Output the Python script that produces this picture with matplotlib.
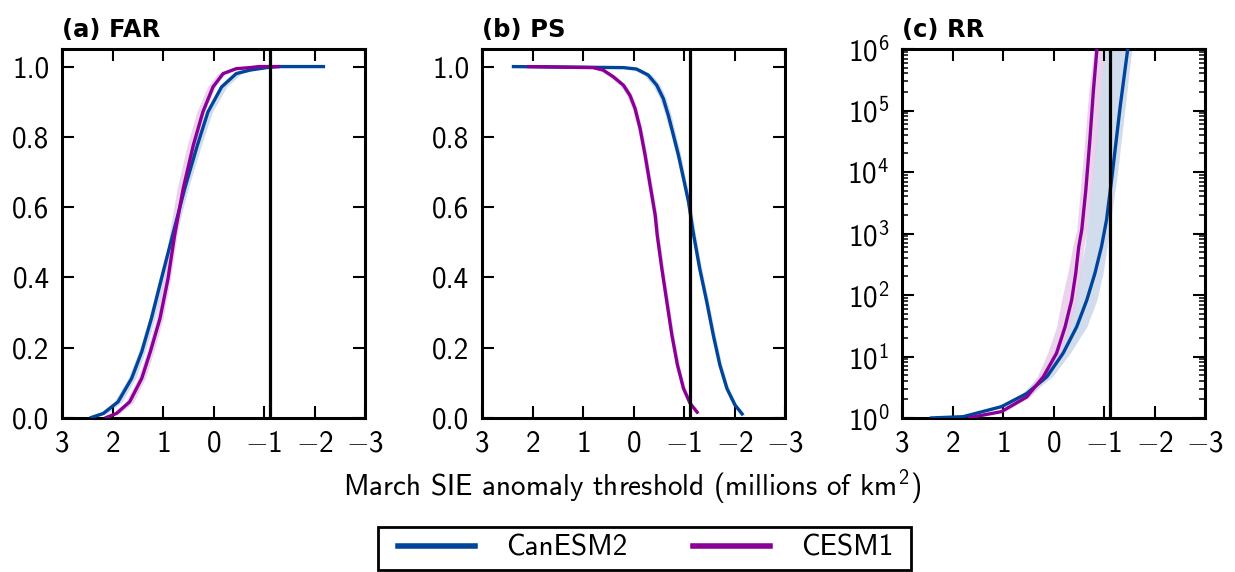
import matplotlib
matplotlib.use("Agg")
import matplotlib.pyplot as plt
from matplotlib.lines import Line2D
from matplotlib.patches import Rectangle

plt.rcParams['font.family'] = ['cmss10', 'DejaVu Sans']
plt.rcParams['mathtext.fontset'] = 'custom'
plt.rcParams['mathtext.rm'] = 'cmss10'
plt.rcParams['mathtext.sf'] = 'cmss10'
plt.rcParams['mathtext.it'] = 'cmss10'
plt.rcParams['mathtext.bf'] = 'cmss10'
plt.rcParams['mathtext.fallback'] = 'cm'
plt.rcParams['axes.unicode_minus'] = False

# ---------------- data ----------------
models = ["CanESM2", "CESM1"]
colors = {"CanESM2": "#00459b", "CESM1": "#8a0097"}
band_colors = {"CanESM2": "#c9d7ea", "CESM1": "#e9cce9"}
threshold_obs = -1.12

# (a) FAR : (probability level, threshold position, band left, band right)
far_can_y = [0.0, 0.013, 0.046, 0.113, 0.189, 0.283, 0.397, 0.52, 0.653, 0.776, 0.871, 0.942, 0.980, 0.990, 0.997, 1.0, 1.0]
far_can = [2.45, 2.18, 1.89, 1.62, 1.42, 1.23, 1.03, 0.81, 0.57, 0.32, 0.11, -0.16, -0.45, -0.72, -1.05, -1.30, -2.21]
far_can_lo = [2.53, 2.27, 1.97, 1.69, 1.48, 1.28, 1.08, 0.85, 0.61, 0.36, 0.15, -0.12, -0.40, -0.66, -1.00, -1.25, -2.21]
far_can_hi = [2.40, 2.10, 1.81, 1.54, 1.35, 1.16, 0.96, 0.74, 0.50, 0.24, 0.02, -0.26, -0.55, -0.80, -1.12, -1.35, -2.21]
far_ces_y = [0.0, 0.013, 0.046, 0.113, 0.189, 0.283, 0.397, 0.52, 0.653, 0.776, 0.871, 0.942, 0.980, 0.994, 0.997, 1.0, 1.0]
far_ces = [2.15, 1.92, 1.66, 1.42, 1.25, 1.06, 0.90, 0.77, 0.60, 0.40, 0.21, 0.01, -0.19, -0.45, -0.72, -0.90, -1.32]
far_ces_lo = [2.22, 2.00, 1.74, 1.50, 1.32, 1.14, 0.99, 0.88, 0.72, 0.52, 0.33, 0.12, -0.08, -0.36, -0.64, -0.85, -1.32]
far_ces_hi = [2.10, 1.85, 1.58, 1.35, 1.18, 1.00, 0.85, 0.72, 0.56, 0.36, 0.17, -0.03, -0.23, -0.50, -0.76, -0.94, -1.32]

# (b) PS
ps_can_y = [1.0, 0.997, 0.993, 0.976, 0.947, 0.909, 0.861, 0.805, 0.748, 0.682, 0.615, 0.53, 0.426, 0.331, 0.236, 0.151, 0.084, 0.037, 0.008]
ps_can = [2.41, 0.20, -0.06, -0.29, -0.46, -0.59, -0.69, -0.79, -0.89, -0.99, -1.09, -1.18, -1.31, -1.45, -1.58, -1.71, -1.85, -2.01, -2.17]
ps_can_lo = [2.41, 0.30, 0.03, -0.20, -0.38, -0.52, -0.63, -0.74, -0.84, -0.95, -1.05, -1.14, -1.27, -1.41, -1.54, -1.67, -1.81, -1.96, -2.12]
ps_can_hi = [2.41, 0.12, -0.14, -0.37, -0.53, -0.65, -0.75, -0.84, -0.94, -1.03, -1.13, -1.22, -1.35, -1.49, -1.62, -1.75, -1.89, -2.05, -2.21]
ps_ces_y = [1.0, 0.997, 0.990, 0.971, 0.947, 0.918, 0.881, 0.824, 0.748, 0.662, 0.577, 0.52, 0.426, 0.331, 0.236, 0.151, 0.084, 0.042, 0.013]
ps_ces = [2.11, 0.80, 0.60, 0.40, 0.20, 0.07, -0.03, -0.13, -0.23, -0.33, -0.43, -0.47, -0.56, -0.66, -0.76, -0.87, -0.99, -1.12, -1.28]
ps_ces_lo = [2.11, 0.88, 0.68, 0.48, 0.27, 0.13, 0.03, -0.08, -0.18, -0.28, -0.38, -0.43, -0.52, -0.62, -0.72, -0.83, -0.95, -1.08, -1.25]
ps_ces_hi = [2.11, 0.75, 0.55, 0.35, 0.15, 0.02, -0.07, -0.17, -0.27, -0.37, -0.47, -0.51, -0.60, -0.70, -0.80, -0.91, -1.03, -1.16, -1.31]

# (c) RR (log scale)
rr_can_y = [1.0, 1.05, 1.53, 2.5, 4.7, 11.3, 30.5, 83, 225, 610, 1660, 7400, 1.15e5, 1e6]
rr_can = [2.45, 1.79, 1.03, 0.53, 0.13, -0.19, -0.46, -0.66, -0.82, -0.95, -1.05, -1.15, -1.32, -1.47]
rr_can_lo = [2.45, 1.82, 1.10, 0.62, 0.30, 0.02, -0.23, -0.42, -0.52, -0.62, -0.68, -0.76, -0.90, -0.99]
rr_can_hi = [2.45, 1.76, 0.96, 0.44, 0.02, -0.33, -0.66, -0.86, -0.98, -1.06, -1.13, -1.25, -1.42, -1.55]
rr_ces_y = [1.0, 1.27, 2.2, 4.7, 11.3, 30.5, 83, 225, 610, 1150, 5100, 3.3e4, 2.1e5, 1e6]
rr_ces = [1.70, 1.03, 0.53, 0.20, -0.06, -0.23, -0.36, -0.44, -0.50, -0.56, -0.64, -0.72, -0.79, -0.86]
rr_ces_lo = [1.72, 1.10, 0.62, 0.32, 0.12, -0.06, -0.16, -0.28, -0.38, -0.46, -0.53, -0.62, -0.70, -0.80]
rr_ces_hi = [1.68, 0.97, 0.46, 0.10, -0.16, -0.33, -0.46, -0.54, -0.60, -0.66, -0.76, -0.86, -0.93, -1.02]

xticks = [3, 2, 1, 0, -1, -2, -3]
lin_yticks = [0.0, 0.2, 0.4, 0.6, 0.8, 1.0]
log_yticks = [1, 10, 100, 1e3, 1e4, 1e5, 1e6]

# ---------------- figure ----------------
W, H = 1235, 572
fig = plt.figure(figsize=(W / 100, H / 100), dpi=100)
lefts = [62, 482, 902]
axes = []
for L in lefts:
    axes.append(fig.add_axes([L / W, 1 - 418 / H, 303 / W, (418 - 49) / H]))

panels = [
    (axes[0], "(a) FAR",
     {"CanESM2": (far_can_y, far_can, far_can_lo, far_can_hi),
      "CESM1": (far_ces_y, far_ces, far_ces_lo, far_ces_hi)}),
    (axes[1], "(b) PS",
     {"CanESM2": (ps_can_y, ps_can, ps_can_lo, ps_can_hi),
      "CESM1": (ps_ces_y, ps_ces, ps_ces_lo, ps_ces_hi)}),
    (axes[2], "(c) RR",
     {"CanESM2": (rr_can_y, rr_can, rr_can_lo, rr_can_hi),
      "CESM1": (rr_ces_y, rr_ces, rr_ces_lo, rr_ces_hi)}),
]

def tick_text(v):
    return r"$%d$" % v if v >= 0 else r"$-%d$" % (-v)

for i, (ax, title, series) in enumerate(panels):
    if i == 2:
        ax.set_yscale('log')
    for m in ["CanESM2", "CESM1"]:
        yv, x, lo, hi = series[m]
        ax.fill_betweenx(yv, lo, hi, color=band_colors[m], alpha=0.85, lw=0, zorder=1)
    for m in ["CanESM2", "CESM1"]:
        yv, x, lo, hi = series[m]
        ax.plot(x, yv, color=colors[m], lw=2.4, zorder=3, solid_capstyle='butt')
    ax.axvline(threshold_obs, color='black', lw=2.3, zorder=4)
    ax.set_xlim(3, -3)
    ax.set_xticks(xticks)
    ax.set_xticklabels([tick_text(v) for v in xticks])
    if i < 2:
        ax.set_ylim(0, 1.05)
        ax.set_yticks(lin_yticks)
        ax.set_yticklabels(["%.1f" % v for v in lin_yticks])
    else:
        ax.set_ylim(1, 1e6)
        ax.set_yticks(log_yticks)
        ax.set_yticklabels([r"$10^{%d}$" % k for k in range(len(log_yticks))])
    for s in ax.spines.values():
        s.set_linewidth(2.2)
    ax.tick_params(which='major', direction='in', length=8.5, width=1.5,
                   top=True, right=True, labelsize=21, pad=9)
    ax.tick_params(which='minor', direction='in', length=4.5, width=1.1,
                   top=True, right=True)
    ax.set_title(title, loc='left', fontsize=17.5, fontweight='bold',
                 family='DejaVu Sans', pad=8.5)

fig.text(632 / W, 1 - 487 / H, r"March SIE anomaly threshold (millions of km$^2$)",
         ha='center', va='center', fontsize=21)

# legend frame drawn as a figure rectangle, legend entries without frame
fig.patches.append(Rectangle((378 / W, 1 - 570 / H), (911 - 378) / W, (570 - 527) / H,
                             transform=fig.transFigure, fill=False, edgecolor='black',
                             linewidth=2, zorder=5))
handles = [Line2D([0], [0], color=colors[m], lw=4) for m in models]
leg = fig.legend(handles, models, loc='center', bbox_to_anchor=(646 / W, 1 - 548.5 / H),
                 ncol=2, fontsize=21, frameon=False, handlelength=2.64,
                 columnspacing=2.26, handletextpad=1.06, borderpad=0.0, borderaxespad=0)

fig.savefig("out.png", dpi=100)
